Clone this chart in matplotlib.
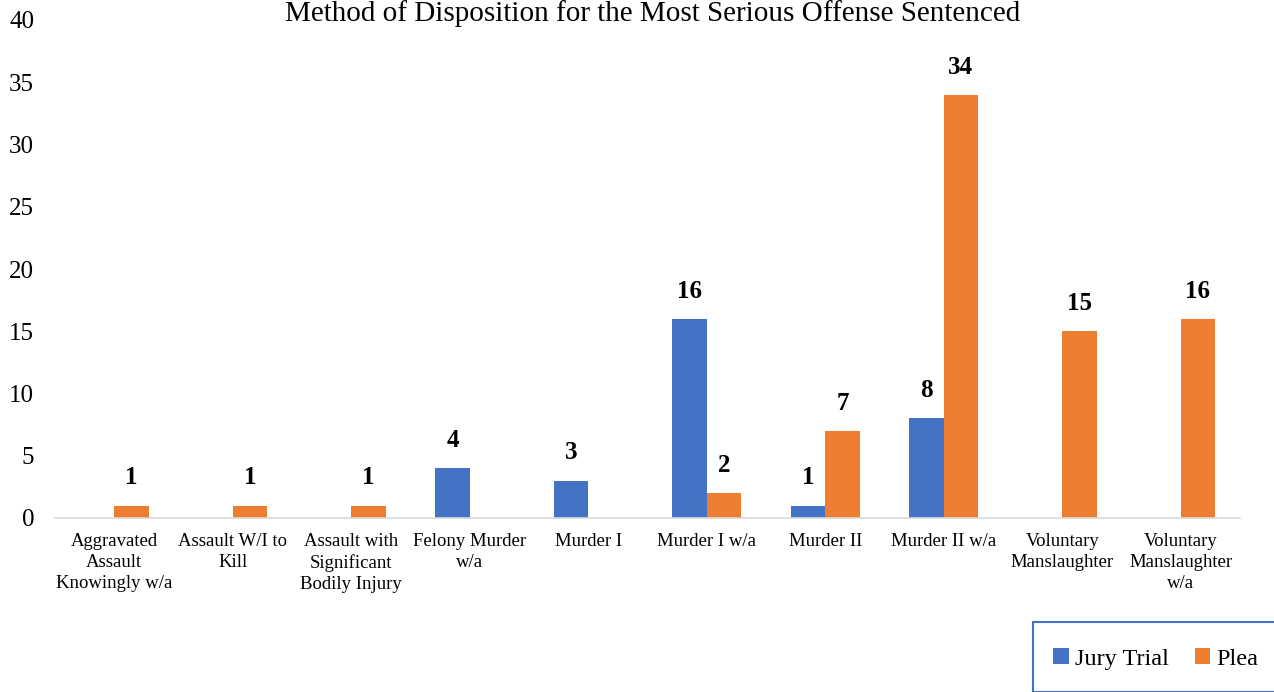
import matplotlib
matplotlib.use("Agg")
import matplotlib.pyplot as plt
import numpy as np
from matplotlib.patches import Rectangle

categories = ["Aggravated\nAssault\nKnowingly w/a", "Assault W/I to\nKill",
              "Assault with\nSignificant\nBodily Injury", "Felony Murder\nw/a",
              "Murder I", "Murder I w/a", "Murder II", "Murder II w/a",
              "Voluntary\nManslaughter", "Voluntary\nManslaughter\nw/a"]
jury_trial = [0, 0, 0, 4, 3, 16, 1, 8, 0, 0]
plea = [1, 1, 1, 0, 0, 2, 7, 34, 15, 16]
yticks = [0, 5, 10, 15, 20, 25, 30, 35, 40]

plt.rcParams['font.family'] = ['Liberation Serif', 'DejaVu Serif']

fig = plt.figure(figsize=(12.74, 6.92), dpi=100)
ax = fig.add_axes([55/1274, 1-518/692, (1240-55)/1274, (518-20)/692])

x = np.arange(len(categories))
w = 0.29
blue = "#4472C4"
orange = "#ED7D31"
b1 = ax.bar(x - w/2, jury_trial, w, color=blue, label="Jury Trial")
b2 = ax.bar(x + w/2, plea, w, color=orange, label="Plea")

for bars, vals in ((b1, jury_trial), (b2, plea)):
    for r, v in zip(bars, vals):
        if v > 0:
            ax.text(r.get_x() + r.get_width()/2, v + 1.3, str(v), ha='center', va='bottom',
                    fontsize=18, fontweight='bold')

ax.set_xlim(-0.5, len(categories) - 0.5)
ax.set_ylim(0, 40)
ax.set_yticks(yticks)
ax.set_xticks(x)
ax.set_xticklabels(categories, fontsize=13.5, linespacing=1.3, va='top')
ax.tick_params(axis='both', length=0)
ax.tick_params(axis='y', labelsize=18, pad=15)
ax.tick_params(axis='x', pad=11)
for s in ['top', 'right', 'left']:
    ax.spines[s].set_visible(False)
ax.spines['bottom'].set_color('#D9D9D9')
ax.spines['bottom'].set_linewidth(1.2)

fig.text(653/1274, 1-21/692, "Method of Disposition for the Most Serious Offense Sentenced",
         ha='center', va='baseline', fontsize=21)

# legend box
fig.patches.append(Rectangle((1033/1274, 0), 1.0, 1-622/692, transform=fig.transFigure,
                             fill=False, edgecolor=blue, linewidth=1.5))
leg = fig.legend(handles=[b1, b2], loc='center', bbox_to_anchor=(1156/1274, 1-659/692),
                 ncol=2, frameon=False, fontsize=17.5, handlelength=0.65, handleheight=0.65,
                 handletextpad=0.25, columnspacing=1.05)

fig.savefig("out.png", dpi=100)
